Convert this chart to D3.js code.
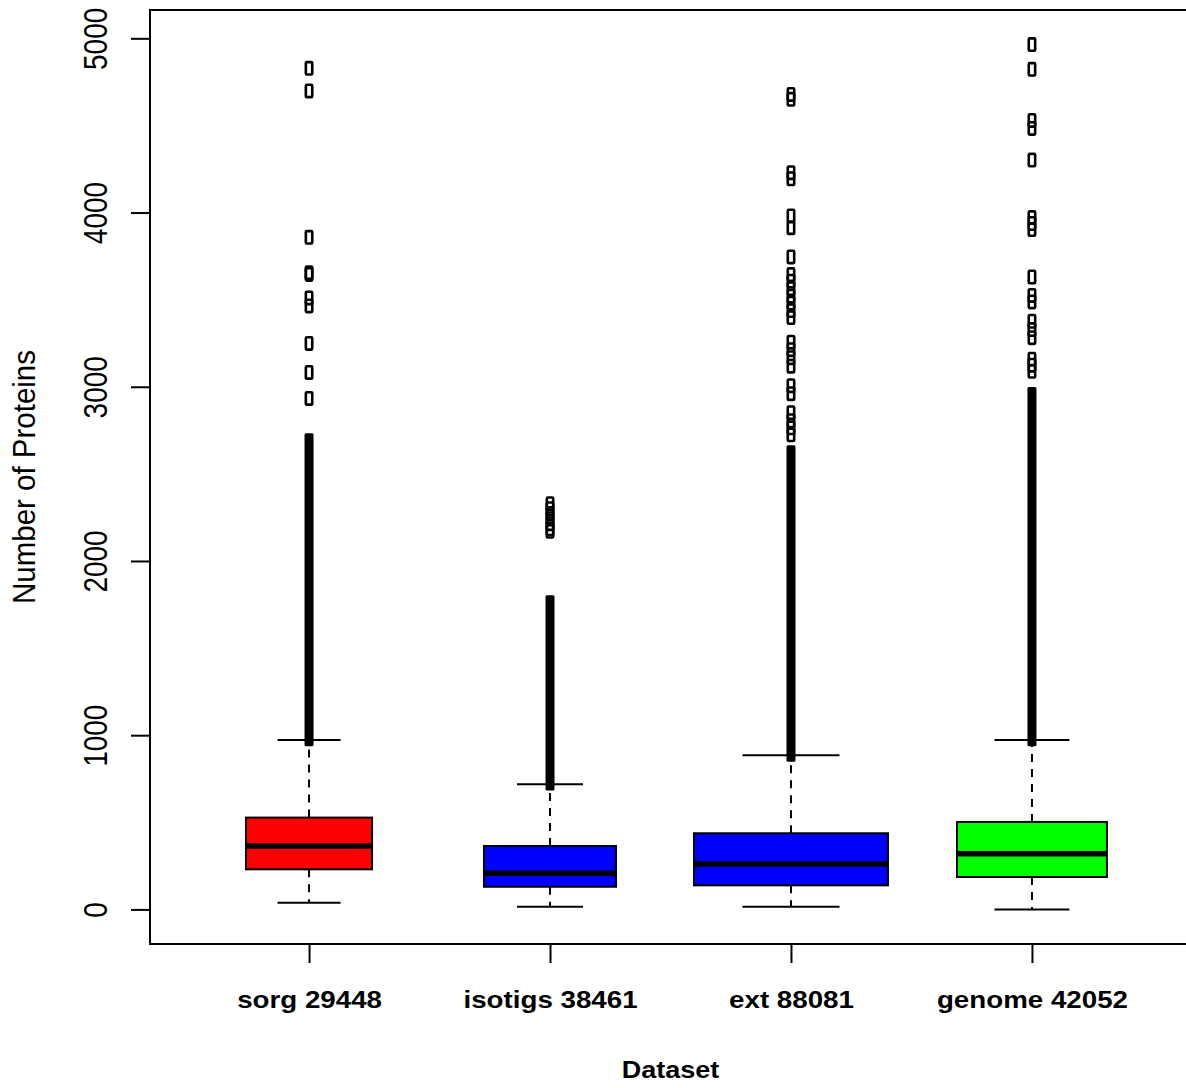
<!DOCTYPE html>
<html>
<head>
<meta charset="utf-8">
<script src="https://cdn.jsdelivr.net/npm/d3@7/dist/d3.min.js"></script>
<style>
    body { margin: 0; background: #fff; }
    svg { display: block; }
    text { font-family: "Liberation Sans", Arial, Helvetica, sans-serif; fill: #000; }
</style>
</head>
<body>
<div id="chart"></div>
<script>
// Boxplot of protein counts per dataset (R-style varwidth boxplot look).

const categories = ['sorg 29448', 'isotigs 38461', 'ext 88081', 'genome 42052'];
const boxColors = ['#ff0000', '#0000ff', '#0000ff', '#00ff00'];

const lowerWhisker = [38, 15, 15, 0];
const q1 = [230, 130, 138, 186];
const median = [364, 207, 260, 320];
const q3 = [527, 364, 437, 502];
const upperWhisker = [973, 718, 885, 973];

// outliers so dense they merge into one solid bar: [from, to]
const denseLow = [980, 725, 890, 980];
const denseHigh = [2690, 1760, 2621, 2955];

// individually visible outliers above the dense run
const sorgOutliers = [4828, 4698, 3858, 3655, 3645, 3510, 3464, 3249, 3082, 2933];
const isotigsOutliers = [2329, 2300, 2272, 2243, 2214, 2185, 2170];
const extOutliers = [4678, 4650, 4229, 4194, 3980, 3913, 3745, 3644, 3606, 3563, 3520, 3480,
    3437, 3397, 3256, 3213, 3167, 3118, 3006, 2960, 2851, 2805, 2764, 2724];
const genomeOutliers = [4964, 4822, 4529, 4483, 4301, 3971, 3937, 3902, 3630, 3524, 3487,
    3376, 3328, 3282, 3158, 3124, 3089];
const outliers = [sorgOutliers, isotigsOutliers, extOutliers, genomeOutliers];

const yTicks = [0, 1000, 2000, 3000, 4000, 5000];

// relative box widths (varwidth), as a share of the spacing between boxes
const BOX_WIDTH_FRAC = [0.523, 0.548, 0.805, 0.622];

const W = 1186, H = 1088;
const plot = { left: 150, top: 10, right: 1191, bottom: 944 };
const TEXT_STRETCH = 1.18;

const svg = d3.select('#chart').append('svg').attr('width', W).attr('height', H);

// R extends both axis ranges by 4 percent
const x = d3.scaleLinear().domain([0.34, 4.66]).range([plot.left, plot.right]);
const yMin = d3.min(lowerWhisker);
const yMax = d3.max(outliers.flat());
const pad = (yMax - yMin) * 0.04;
const y = d3.scaleLinear().domain([yMin - pad, yMax + pad]).range([plot.bottom, plot.top]);
const step = x(2) - x(1);

const boxes = categories.map((name, i) => ({
    name, i, pos: i + 1,
    lo: lowerWhisker[i], q1: q1[i], med: median[i], q3: q3[i], hi: upperWhisker[i],
    w: BOX_WIDTH_FRAC[i] * step,
    color: boxColors[i],
}));

const g = svg.append('g');

// whiskers (dashed) and caps
boxes.forEach((b) => {
    const cx = x(b.pos);
    g.append('line')
        .attr('x1', cx).attr('x2', cx).attr('y1', y(b.q3)).attr('y2', y(b.hi))
        .attr('stroke', '#000').attr('stroke-width', 2).attr('stroke-dasharray', '8 7');
    g.append('line')
        .attr('x1', cx).attr('x2', cx).attr('y1', y(b.q1)).attr('y2', y(b.lo))
        .attr('stroke', '#000').attr('stroke-width', 2).attr('stroke-dasharray', '8 7');
    [b.lo, b.hi].forEach((v) => {
        g.append('line')
            .attr('x1', cx - b.w / 4).attr('x2', cx + b.w / 4)
            .attr('y1', y(v)).attr('y2', y(v))
            .attr('stroke', '#000').attr('stroke-width', 2);
    });
});

// boxes and medians
g.selectAll('rect.box').data(boxes).join('rect')
    .attr('class', 'box')
    .attr('x', (d) => x(d.pos) - d.w / 2)
    .attr('width', (d) => d.w)
    .attr('y', (d) => y(d.q3))
    .attr('height', (d) => y(d.q1) - y(d.q3))
    .attr('fill', (d) => d.color)
    .attr('stroke', '#000').attr('stroke-width', 2);

g.selectAll('line.median').data(boxes).join('line')
    .attr('class', 'median')
    .attr('x1', (d) => x(d.pos) - d.w / 2 + 1)
    .attr('x2', (d) => x(d.pos) + d.w / 2 - 1)
    .attr('y1', (d) => y(d.med)).attr('y2', (d) => y(d.med))
    .attr('stroke', '#000').attr('stroke-width', 5.5);

// dense outlier runs
const MW = 9, MH = 15;
g.selectAll('rect.dense').data(boxes).join('rect')
    .attr('class', 'dense')
    .attr('x', (d) => x(d.pos) - MW / 2)
    .attr('width', MW)
    .attr('y', (d) => y(denseHigh[d.i]) - MH / 2)
    .attr('height', (d) => y(denseLow[d.i]) - y(denseHigh[d.i]) + MH)
    .attr('rx', 1.5)
    .attr('fill', '#000');

// single outliers, open markers
const sw = 2.6;
boxes.forEach((b) => {
    g.selectAll(null).data(outliers[b.i]).join('rect')
        .attr('x', x(b.pos) - MW / 2 + sw / 2)
        .attr('width', MW - sw)
        .attr('y', (v) => y(v) - MH / 2 + sw / 2)
        .attr('height', MH - sw)
        .attr('rx', 1)
        .attr('fill', 'none')
        .attr('stroke', '#000').attr('stroke-width', sw);
});

// frame (right edge falls just off the canvas)
svg.append('rect')
    .attr('x', plot.left).attr('y', plot.top)
    .attr('width', plot.right - plot.left).attr('height', plot.bottom - plot.top)
    .attr('fill', 'none').attr('stroke', '#000').attr('stroke-width', 2);

// y axis
const yAxis = svg.append('g')
    .attr('transform', `translate(${plot.left},0)`)
    .call(d3.axisLeft(y).tickValues(yTicks).tickSize(19).tickFormat(d3.format('d')));
yAxis.select('.domain').remove();
yAxis.selectAll('.tick line').attr('stroke', '#000').attr('stroke-width', 2);
yAxis.selectAll('.tick text')
    .attr('x', null).attr('dy', null)
    .attr('text-anchor', 'middle')
    .attr('font-size', 28)
    .attr('transform', `translate(-43,0) rotate(-90) scale(1,${TEXT_STRETCH})`);

// x axis
const xAxis = svg.append('g')
    .attr('transform', `translate(0,${plot.bottom})`)
    .call(d3.axisBottom(x).tickValues([1, 2, 3, 4]).tickSize(19).tickFormat((d) => categories[d - 1]));
xAxis.select('.domain').remove();
xAxis.selectAll('.tick line').attr('stroke', '#000').attr('stroke-width', 2);
xAxis.selectAll('.tick text')
    .attr('y', null).attr('dy', null)
    .attr('text-anchor', 'middle')
    .attr('font-size', 23.5)
    .attr('font-weight', 'bold')
    .attr('transform', `translate(0,64) scale(${TEXT_STRETCH},1)`);

// axis titles
svg.append('text')
    .attr('text-anchor', 'middle')
    .attr('font-size', 23.5)
    .attr('font-weight', 'bold')
    .attr('transform', `translate(${(plot.left + plot.right) / 2},1078) scale(1.15,1)`)
    .text('Dataset');

svg.append('text')
    .attr('text-anchor', 'middle')
    .attr('font-size', 29.5)
    .attr('transform', `translate(35,${(plot.top + plot.bottom) / 2}) rotate(-90) scale(1,1.05)`)
    .text('Number of Proteins');
</script>
</body>
</html>
